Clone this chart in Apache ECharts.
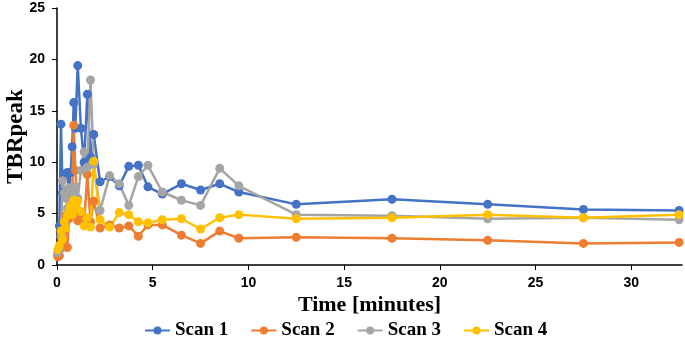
<!DOCTYPE html>
<html><head><meta charset="utf-8">
<script src="https://cdn.jsdelivr.net/npm/echarts@6/dist/echarts.min.js"></script>
<style>html,body{margin:0;padding:0;background:#fff}#c{width:685px;height:344px}</style>
</head><body><div id="c"></div>
<script>
const times = [0.042,0.125,0.208,0.292,0.375,0.458,0.542,0.625,0.708,0.792,0.875,0.958,1.083,1.25,1.417,1.583,1.75,1.917,
  2.25,2.75,3.25,3.75,4.25,4.75,5.5,6.5,7.5,8.5,9.5,12.5,17.5,22.5,27.5,32.5];
const scan1 = [1.0,3.8,13.7,7.0,8.8,8.8,9.0,7.4,9.0,11.5,15.8,13.3,19.4,13.3,10.0,16.6,10.5,12.7,
  8.1,8.6,7.7,9.6,9.7,7.6,6.9,7.9,7.3,7.9,7.1,5.9,6.4,5.9,5.4,5.3];
const scan2 = [0.8,0.9,1.6,2.2,3.5,4.8,1.7,4.5,5.5,6.8,13.6,9.2,4.3,5.0,4.0,8.8,4.2,6.2,
  3.6,3.9,3.6,3.8,2.8,3.9,3.9,2.9,2.1,3.3,2.6,2.7,2.6,2.4,2.1,2.2];
const scan3 = [1.2,1.5,2.8,8.2,7.0,6.5,5.5,7.5,6.2,7.3,6.8,7.6,6.5,9.2,11.0,9.5,18.0,9.8,
  5.3,8.7,7.9,5.8,8.6,9.7,7.1,6.3,5.8,9.4,7.7,4.9,4.8,4.5,4.6,4.4];
const scan4 = [1.5,1.9,3.3,2.5,4.2,3.6,4.8,5.3,5.8,4.9,6.3,5.5,6.2,5.2,3.8,4.6,3.7,10.1,
  4.4,3.7,5.1,4.9,4.2,4.1,4.4,4.5,3.5,4.6,4.9,4.5,4.6,4.9,4.6,4.9];
const names = ['Scan 1','Scan 2','Scan 3','Scan 4'];
const colors = ['#4472C4','#ED7D31','#A5A5A5','#FFC000'];
const values = [scan1, scan2, scan3, scan4];

const chart = echarts.init(document.getElementById('c'));
const lblFont = {fontFamily:'Liberation Sans', fontWeight:'bold', fontSize:14, color:'#000'};
chart.setOption({
  animation:false,
  color: colors,
  grid:{left:57,right:3,top:8,bottom:79,containLabel:false,outerBoundsMode:'none'},
  legend:{top:321,left:144,itemWidth:25,itemHeight:10,itemGap:22,padding:0,
    textStyle:{fontFamily:'Liberation Serif',fontWeight:'bold',fontSize:19,color:'#000'},
    data:names},
  xAxis:{type:'value',min:0,max:32.65,interval:5,
    name:'Time [minutes]',nameLocation:'middle',nameGap:29,nameMoveOverlap:false,
    nameTextStyle:{fontFamily:'Liberation Serif',fontWeight:'bold',fontSize:22,color:'#000'},
    axisLine:{lineStyle:{color:'#000',width:1.5}},
    axisTick:{show:true,length:5,lineStyle:{color:'#000'}},
    axisLabel:Object.assign({margin:11,showMaxLabel:false},lblFont),
    splitLine:{show:false}},
  yAxis:{type:'value',min:0,max:25,interval:5,
    name:'TBRpeak',nameLocation:'middle',nameGap:29,nameMoveOverlap:false,
    nameTextStyle:{fontFamily:'Liberation Serif',fontWeight:'bold',fontSize:23,color:'#000'},
    axisLine:{show:true,lineStyle:{color:'#000',width:1.5}},
    axisTick:{show:true,length:5,lineStyle:{color:'#000'}},
    axisLabel:Object.assign({margin:12},lblFont),
    splitLine:{show:false}},
  series: names.map((n,i)=>({
    name:n,type:'line',symbol:'circle',symbolSize:9,
    lineStyle:{width:2.5,color:colors[i]},itemStyle:{color:colors[i]},
    data: times.map((t,j)=>[t, values[i][j]])
  }))
});
</script></body></html>
